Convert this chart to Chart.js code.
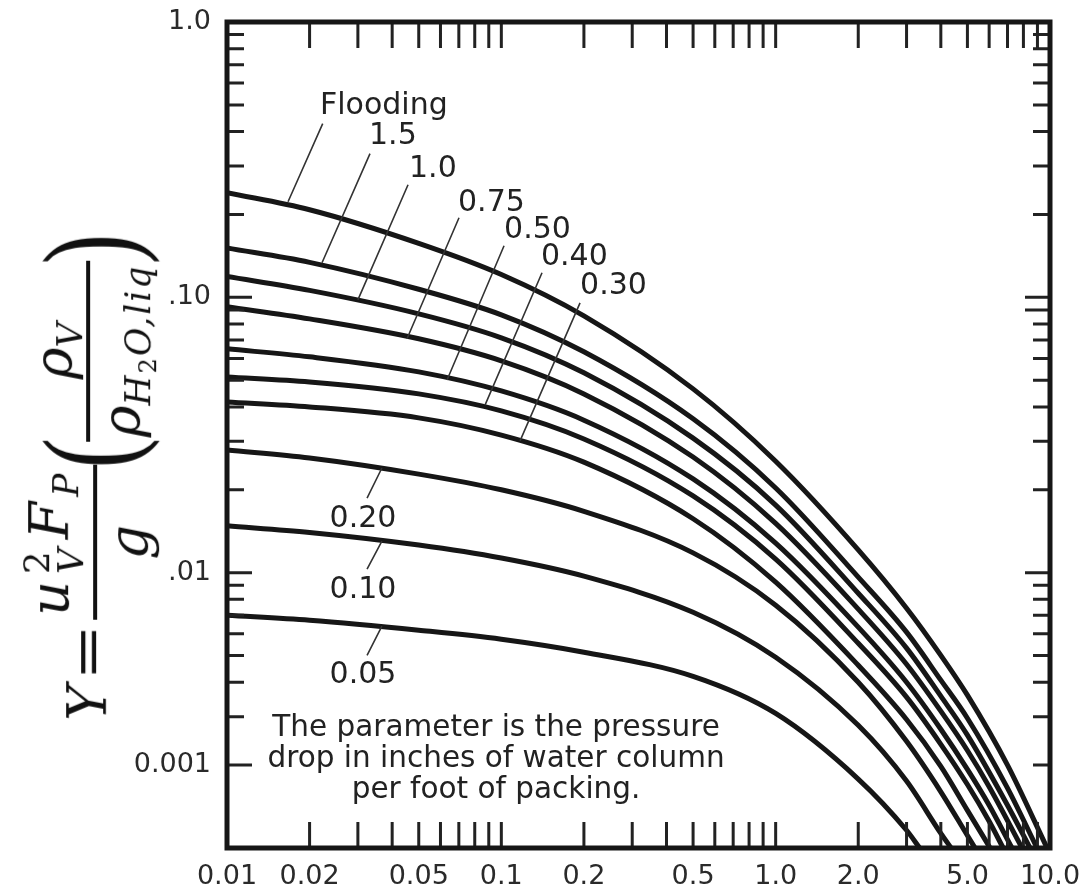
<!DOCTYPE html>
<html><head><meta charset="utf-8">
<script src="https://cdn.jsdelivr.net/npm/chart.js@4.4.0/dist/chart.umd.min.js"></script>
<style>
html,body{margin:0;padding:0;background:#fff;}
#wrap{position:relative;width:1086px;height:892px;overflow:hidden;background:#fff;}
#c{position:absolute;left:0;top:0;}
#ylab{position:absolute;left:88px;top:479px;transform:translate(-50%,-50%) rotate(-90deg);display:flex;align-items:center;font-family:'DejaVu Serif',serif;font-size:54px;color:#111;white-space:nowrap;line-height:1;}
.it{font-style:italic;}
.op{margin:0 10px;font-style:normal;display:inline-block;transform:scaleX(1.25);}
.frac{display:inline-flex;flex-direction:column;align-items:center;}
.frac .bar{align-self:stretch;height:4px;background:#111;margin:5px 0;}
.frac .num,.frac .den{display:block;padding:0 4px;}
.num1{letter-spacing:5px;}
.ss{display:inline-flex;flex-direction:column;font-size:0.66em;vertical-align:middle;line-height:0.95;margin:0 4px 0 2px;}
.sub{font-size:0.64em;position:relative;top:0.3em;}
.subl{letter-spacing:2px;}
.subsub{font-size:0.7em;position:relative;top:0.25em;}
.par{font-family:'Liberation Serif',serif;font-size:130px;font-style:normal;display:inline-block;transform:scaleX(0.7);line-height:1;margin:0 -10px;}
</style></head><body>
<div id="wrap">
<canvas id="c" width="1086" height="892"></canvas>
<div id="ylab">
  <span class="it">Y</span><span class="op">=</span>
  <span class="frac">
    <span class="num num1"><span class="it">u</span><span class="ss"><span>2</span><span class="it">V</span></span><span class="it">F</span><span class="sub it">P</span></span>
    <span class="bar"></span>
    <span class="den it">g</span>
  </span>
  <span class="par">(</span>
  <span class="frac">
    <span class="num"><span class="it">ρ</span><span class="sub it">V</span></span>
    <span class="bar"></span>
    <span class="den"><span class="it">ρ</span><span class="sub it subl">H<span class="subsub" style="font-style:normal">2</span>O,liq</span></span>
  </span>
  <span class="par">)</span>
</div>
</div>
<script>
// ---- axis ticks / labels ----
const xTickValues = [0.01, 0.02, 0.05, 0.1, 0.2, 0.5, 1, 2, 5, 10];
const xTickLabels = ["0.01", "0.02", "0.05", "0.1", "0.2", "0.5", "1.0", "2.0", "5.0", "10.0"];
const yTickValues = [1, 0.1, 0.01, 0.002];
const yTickLabels = ["1.0", ".10", ".01", "0.001"];
const xMinorTicks = [0.02,0.03,0.04,0.05,0.06,0.07,0.08,0.09,0.1,0.2,0.3,0.4,0.5,0.6,0.7,0.8,0.9,1,2,3,4,5,6,7,8,9];
const yMinorTicks = [0.9,0.8,0.7,0.6,0.5,0.4,0.3,0.2,0.1,0.09,0.08,0.07,0.06,0.05,0.04,0.03,0.02,0.01,0.009,0.008,0.007,0.006,0.005,0.004,0.003,0.002];
const yLongLeft = [0.1, 0.01, 0.002];
const yLongRight = [0.1, 0.09, 0.01];

// ---- curves: [x, Y] ----
const curveNames = ["Flooding", "1.5", "1.0", "0.75", "0.50", "0.40", "0.30", "0.20", "0.10", "0.05"];
const curveFlooding = [[0.01,0.240],[0.02,0.208],[0.05,0.157],[0.1,0.121],[0.2,0.0856],[0.5,0.0465],[1,0.0254],[2,0.0121],[3,0.00743],[4,0.00501],[5,0.00359],[7,0.00200],[9.76,0.001]];
const curve15 = [[0.01,0.151],[0.02,0.134],[0.05,0.107],[0.1,0.0864],[0.2,0.0634],[0.5,0.0362],[1,0.0203],[2,0.00963],[3,0.00608],[4,0.00407],[5,0.00296],[7,0.00165],[8.97,0.001]];
const curve10 = [[0.01,0.119],[0.02,0.106],[0.05,0.0871],[0.1,0.0713],[0.2,0.0532],[0.5,0.0308],[1,0.0176],[2,0.00842],[3,0.00532],[4,0.00356],[5,0.00257],[7,0.00143],[8.46,0.001]];
const curve075 = [[0.01,0.0924],[0.02,0.0835],[0.05,0.0707],[0.1,0.0588],[0.2,0.0446],[0.5,0.0263],[1,0.0151],[2,0.00737],[3,0.00465],[4,0.00314],[5,0.00226],[6,0.00167],[7.91,0.001]];
const curve050 = [[0.01,0.0650],[0.02,0.0608],[0.05,0.0536],[0.1,0.0457],[0.2,0.0358],[0.5,0.0219],[1,0.0128],[2,0.00634],[3,0.00400],[4,0.00270],[5,0.00193],[6,0.00143],[7.27,0.001]];
const curve040 = [[0.01,0.0514],[0.02,0.0493],[0.05,0.0446],[0.1,0.0387],[0.2,0.0306],[0.5,0.0190],[1,0.0112],[2,0.00554],[3,0.00353],[4,0.00238],[5,0.00170],[6,0.00125],[6.75,0.001]];
const curve030 = [[0.01,0.0417],[0.02,0.0400],[0.05,0.0365],[0.1,0.0316],[0.2,0.0252],[0.5,0.0157],[1,0.00924],[2,0.00461],[3,0.00293],[4,0.00198],[5,0.00137],[6.05,0.001]];
const curve020 = [[0.01,0.0279],[0.02,0.0261],[0.05,0.0228],[0.1,0.0200],[0.2,0.0167],[0.5,0.0118],[1,0.00762],[2,0.00400],[3,0.00244],[4,0.00160],[5,0.00111],[5.33,0.001]];
const curve010 = [[0.01,0.0148],[0.02,0.0140],[0.05,0.0126],[0.1,0.0113],[0.2,0.00971],[0.5,0.00718],[1,0.00493],[2,0.00279],[3,0.00175],[4,0.00113],[4.36,0.001]];
const curve005 = [[0.01,0.00701],[0.02,0.00672],[0.05,0.00618],[0.1,0.00573],[0.2,0.00514],[0.5,0.00420],[1,0.00308],[2,0.00178],[3,0.00116],[3.35,0.001]];
const allCurves = [curveFlooding, curve15, curve10, curve075, curve050, curve040, curve030, curve020, curve010, curve005];

// ---- annotations (data coordinates) ----
const leaderFrom = [[0.02233,0.4275],[0.03321,0.3325],[0.0457,0.2565],[0.0701,0.1946],[0.1023,0.1539],[0.1407,0.1228],[0.1936,0.0955],[0.0324,0.01866],[0.0324,0.0103],[0.0324,0.00501]];
const leaderTo = [[0.01669,0.2225],[0.0222,0.1335],[0.0300,0.0979],[0.0453,0.0707],[0.0634,0.0501],[0.0872,0.0406],[0.1170,0.0301],[0.0367,0.0240],[0.0367,0.01302],[0.0367,0.00639]];
const labelAnchor = [[0.02183,0.5054],[0.03294,0.3930],[0.04608,0.2982],[0.06953,0.2262],[0.1023,0.1805],[0.1395,0.1439],[0.1936,0.1129],[0.03132,0.01605],[0.03132,0.00886],[0.03132,0.004346]];
const labelAlign = ["left","left","left","left","left","left","left","center","center","center"];
const noteLines = ["The parameter is the pressure", "drop in inches of water column", "per foot of packing."];
const noteAnchor = [0.09565, 0.00279];

const INK = '#161616';
const FONT = "'DejaVu Sans', sans-serif";

const decor = {
  id: 'decor',
  afterDatasetsDraw(chart) {
    const ctx = chart.ctx, a = chart.chartArea, x = chart.scales.x, y = chart.scales.y;
    ctx.save();
    ctx.strokeStyle = '#222'; ctx.lineWidth = 3; ctx.lineCap = 'butt';
    ctx.beginPath();
    xMinorTicks.forEach(v => {
      const px = x.getPixelForValue(v);
      ctx.moveTo(px, a.bottom); ctx.lineTo(px, a.bottom - 26);
      ctx.moveTo(px, a.top); ctx.lineTo(px, a.top + 26);
    });
    yMinorTicks.forEach(v => {
      const py = y.getPixelForValue(v);
      const lL = yLongLeft.includes(v) ? 25 : 17;
      const lR = yLongRight.includes(v) ? 25 : 17;
      ctx.moveTo(a.left, py); ctx.lineTo(a.left + lL, py);
      ctx.moveTo(a.right, py); ctx.lineTo(a.right - lR, py);
    });
    ctx.stroke();
    ctx.lineWidth = 5; ctx.strokeStyle = INK;
    ctx.strokeRect(a.left, a.top, a.right - a.left, a.bottom - a.top);
    ctx.lineWidth = 1.6; ctx.strokeStyle = '#333';
    ctx.beginPath();
    leaderFrom.forEach((f, i) => {
      const t = leaderTo[i];
      ctx.moveTo(x.getPixelForValue(f[0]), y.getPixelForValue(f[1]));
      ctx.lineTo(x.getPixelForValue(t[0]), y.getPixelForValue(t[1]));
    });
    ctx.stroke();
    ctx.fillStyle = '#222';
    ctx.font = "30px " + FONT;
    ctx.textBaseline = 'alphabetic';
    curveNames.forEach((n, i) => {
      const p = labelAnchor[i];
      ctx.textAlign = labelAlign[i];
      ctx.fillText(n, x.getPixelForValue(p[0]), y.getPixelForValue(p[1]) + 0.36 * 30);
    });
    ctx.font = "29.5px " + FONT;
    ctx.textAlign = 'center';
    const nx = x.getPixelForValue(noteAnchor[0]), ny = y.getPixelForValue(noteAnchor[1]);
    noteLines.forEach((t, i) => ctx.fillText(t, nx, ny + 0.36 * 29.5 + i * 31));
    ctx.restore();
  }
};

const datasets = allCurves.map((c, i) => ({
  label: curveNames[i],
  data: c.map(p => ({x: p[0], y: p[1]})),
  borderColor: INK, borderWidth: 5, pointRadius: 0, fill: false,
  cubicInterpolationMode: 'monotone'
}));

new Chart(document.getElementById('c'), {
  type: 'line',
  data: { datasets },
  options: {
    responsive: false, animation: false, devicePixelRatio: 1,
    layout: { padding: { left: 0, top: 22, right: 36, bottom: 0 } },
    plugins: { legend: { display: false }, tooltip: { enabled: false } },
    scales: {
      x: {
        type: 'logarithmic', min: 0.01, max: 10, position: 'bottom',
        grid: { display: false, drawTicks: false }, border: { display: false },
        afterBuildTicks: s => { s.ticks = xTickValues.map(v => ({ value: v })); },
        afterFit: s => { s.height = 44; s.paddingLeft = 0; s.paddingRight = 0; },
        ticks: { autoSkip: false, maxRotation: 0, minRotation: 0, padding: 13, color: '#2a2a2a',
                 font: { family: FONT, size: 27 }, callback: (v, i) => xTickLabels[i] }
      },
      y: {
        type: 'logarithmic', min: 0.001, max: 1, position: 'left',
        grid: { display: false, drawTicks: false }, border: { display: false },
        afterBuildTicks: s => { s.ticks = yTickValues.map(v => ({ value: v })); },
        afterFit: s => { s.width = 227; s.paddingTop = 0; s.paddingBottom = 0; },
        ticks: { autoSkip: false, padding: 16, color: '#2a2a2a',
                 font: { family: FONT, size: 27 }, callback: (v, i) => yTickLabels[i] }
      }
    }
  },
  plugins: [decor]
});
</script>
</body></html>
